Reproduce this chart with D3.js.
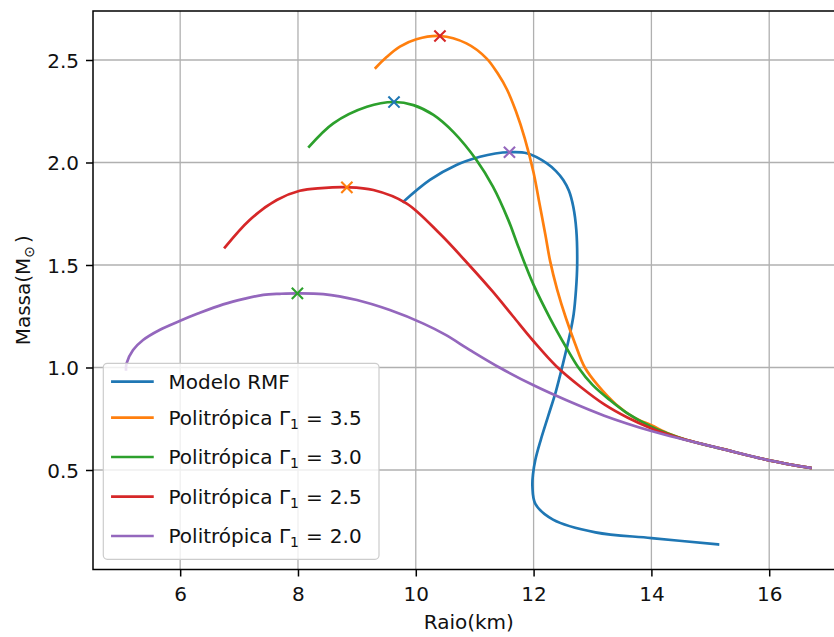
<!DOCTYPE html>
<html>
<head>
<meta charset="utf-8">
<script src="https://cdn.jsdelivr.net/npm/d3@7"></script>
<style>
  body { margin: 0; background: #fff; }
  svg { display: block; }
  text { font-family: "DejaVu Sans", sans-serif; }
</style>
</head>
<body>
<svg id="chart" width="834" height="637"></svg>
<script>
// ---- data ------------------------------------------------------------
const xTicks = [6, 8, 10, 12, 14, 16];
const yTicks = [0.5, 1.0, 1.5, 2.0, 2.5];
const xDomain = [4.52, 17.28];
const yDomain = [0.0146, 2.739];

const xLabel = "Raio(km)";
const seriesLabels = ["Modelo RMF", "Politrópica", "Politrópica", "Politrópica", "Politrópica"];
const gammaValues = [null, "3.5", "3.0", "2.5", "2.0"];

// mass–radius curves, [R (km), M (M_sun)]
const rmf = [
  [9.79, 1.809], [10.24, 1.915], [10.69, 1.988], [11.09, 2.028], [11.35, 2.044],
  [11.59, 2.050], [11.886, 2.045], [12.226, 1.996], [12.38, 1.958], [12.504, 1.915],
  [12.60, 1.862], [12.674, 1.784], [12.725, 1.671], [12.74, 1.500],
  [12.72, 1.380], [12.68, 1.260], [12.62, 1.167], [12.50, 1.020], [12.38, 0.885],
  [12.25, 0.765], [12.12, 0.645], [12.03, 0.550], [11.99, 0.480], [11.98, 0.420],
  [12.03, 0.335], [12.33, 0.258], [13.05, 0.196], [14.0, 0.168], [15.13, 0.137]
];
const poly35 = [
  [9.32, 2.462], [9.50, 2.513], [9.73, 2.565], [10.01, 2.601], [10.41, 2.617],
  [10.86, 2.581], [11.20, 2.508], [11.40, 2.430], [11.55, 2.355], [11.70, 2.250],
  [11.85, 2.118], [12.00, 1.950], [12.10, 1.800], [12.20, 1.648], [12.28, 1.520],
  [12.40, 1.380], [12.55, 1.240], [12.70, 1.120], [12.87, 1.000], [13.10, 0.910],
  [13.40, 0.820], [13.70, 0.757], [14.0, 0.718], [14.3, 0.677], [14.6, 0.646],
  [15.2, 0.603], [16.0, 0.547], [16.7, 0.510]
];
const poly30 = [
  [8.19, 2.077], [8.60, 2.191], [9.17, 2.272], [9.63, 2.295], [9.96, 2.280],
  [10.30, 2.232], [10.64, 2.148], [11.03, 2.012], [11.31, 1.882], [11.57, 1.720],
  [11.72, 1.605], [11.86, 1.500], [12.00, 1.403], [12.28, 1.240], [12.55, 1.100],
  [12.76, 1.000], [13.0, 0.915], [13.3, 0.840], [13.6, 0.775], [14.0, 0.711],
  [14.3, 0.675], [14.6, 0.646], [15.2, 0.603], [16.0, 0.547], [16.7, 0.510]
];
const poly25 = [
  [6.76, 1.586], [7.18, 1.720], [7.64, 1.817], [8.03, 1.862], [8.40, 1.875],
  [8.83, 1.879], [9.28, 1.866], [9.84, 1.801], [10.41, 1.652], [10.92, 1.495],
  [11.30, 1.372], [11.65, 1.250], [12.0, 1.128], [12.39, 1.005], [12.8, 0.905],
  [13.2, 0.820], [13.6, 0.755], [14.0, 0.703], [14.3, 0.672], [14.6, 0.646],
  [15.2, 0.603], [16.0, 0.547], [16.7, 0.510]
];
const poly20 = [
  [5.08, 0.991], [5.09, 1.020], [5.20, 1.085], [5.37, 1.134], [5.65, 1.183],
  [6.00, 1.228], [6.30, 1.263], [6.73, 1.308], [7.10, 1.336], [7.41, 1.354],
  [7.70, 1.3595], [7.98, 1.362], [8.43, 1.358], [9.00, 1.329], [9.56, 1.280],
  [10.13, 1.214], [10.50, 1.160], [10.92, 1.085], [11.42, 1.000], [12.0, 0.913],
  [12.56, 0.840], [13.2, 0.765], [14.0, 0.690], [14.6, 0.645], [15.2, 0.603],
  [16.0, 0.547], [16.7, 0.510]
];

// maximum-mass configurations (marked with "x")
const maxPoints = [[9.63, 2.295], [8.83, 1.879], [7.99, 1.362], [10.41, 2.617], [11.59, 2.050]];

const palette = ["#1f77b4", "#ff7f0e", "#2ca02c", "#d62728", "#9467bd"];
const series = [rmf, poly35, poly30, poly25, poly20];

// ---- layout ----------------------------------------------------------
const plotLeft = 93, plotTop = 11, plotW = 751.6, plotH = 558.5;
const FS = 20;

const svg = d3.select("#chart");
const x = d3.scaleLinear().domain(xDomain).range([plotLeft, plotLeft + plotW]);
const y = d3.scaleLinear().domain(yDomain).range([plotTop + plotH, plotTop]);

// grid
const grid = svg.append("g").attr("stroke", "#b0b0b0").attr("stroke-width", 1.3);
grid.selectAll("line.v").data(xTicks).join("line")
  .attr("x1", d => x(d)).attr("x2", d => x(d))
  .attr("y1", plotTop).attr("y2", plotTop + plotH);
grid.selectAll("line.h").data(yTicks).join("line")
  .attr("x1", plotLeft).attr("x2", plotLeft + plotW)
  .attr("y1", d => y(d)).attr("y2", d => y(d));

// curves
const line = d3.line().x(d => x(d[0])).y(d => y(d[1]))
  .curve(d3.curveCatmullRom.alpha(0.5));
svg.append("g").selectAll("path").data(series).join("path")
  .attr("d", d => line(d))
  .attr("fill", "none")
  .attr("stroke", (d, i) => palette[i])
  .attr("stroke-width", 2.7)
  .attr("stroke-linejoin", "round")
  .attr("stroke-linecap", "square");

// max markers
const m = 5.6;
svg.append("g").selectAll("path").data(maxPoints).join("path")
  .attr("transform", d => `translate(${x(d[0])},${y(d[1])})`)
  .attr("d", `M${-m},${-m}L${m},${m}M${-m},${m}L${m},${-m}`)
  .attr("stroke", (d, i) => palette[i])
  .attr("stroke-width", 2.1)
  .attr("fill", "none");

// axes
const xAxis = svg.append("g").attr("transform", `translate(0,${plotTop + plotH})`)
  .call(d3.axisBottom(x).tickValues(xTicks).tickSize(7).tickPadding(10.3).tickFormat(d3.format("d")));
const yAxis = svg.append("g").attr("transform", `translate(${plotLeft},0)`)
  .call(d3.axisLeft(y).tickValues(yTicks).tickSize(7).tickPadding(7).tickFormat(d3.format(".1f")));
[xAxis, yAxis].forEach(g => {
  g.select(".domain").remove();
  g.selectAll(".tick line").attr("stroke", "#000").attr("stroke-width", 1.5);
  g.selectAll(".tick text").attr("font-size", FS).attr("fill", "#111")
    .attr("font-family", "DejaVu Sans");
});
yAxis.selectAll(".tick text").attr("dy", "0.36em");

// spines
svg.append("rect")
  .attr("x", plotLeft).attr("y", plotTop).attr("width", plotW).attr("height", plotH)
  .attr("fill", "none").attr("stroke", "#000").attr("stroke-width", 1.5);

// axis labels
svg.append("text")
  .attr("x", plotLeft + plotW / 2).attr("y", 629)
  .attr("text-anchor", "middle").attr("font-size", FS).attr("fill", "#111")
  .text(xLabel);

const yl = svg.append("text")
  .attr("transform", `translate(30,${plotTop + plotH / 2}) rotate(-90)`)
  .attr("text-anchor", "middle").attr("font-size", FS).attr("fill", "#111");
yl.append("tspan").text("Massa(M");
yl.append("tspan").attr("font-size", FS * 0.7).attr("dy", 4).text("\u2299");
yl.append("tspan").attr("dy", -4).attr("dx", 3).text(")");

// legend
const legX = 103.3, legY = 363.3, legW = 275.7, legH = 196;
const rowY = [18.4, 54.4, 93.7, 133.4, 172.7];
const leg = svg.append("g");
leg.append("rect")
  .attr("x", legX).attr("y", legY).attr("width", legW).attr("height", legH)
  .attr("rx", 4).attr("fill", "#fff").attr("fill-opacity", 0.8)
  .attr("stroke", "#cccccc").attr("stroke-width", 1.2);
seriesLabels.forEach((lab, i) => {
  const cy = legY + rowY[i];
  leg.append("line")
    .attr("x1", legX + 9.1).attr("x2", legX + 49.1)
    .attr("y1", cy).attr("y2", cy)
    .attr("stroke", palette[i]).attr("stroke-width", 2.7)
    .attr("stroke-linecap", "square");
  const t = leg.append("text")
    .attr("x", legX + 65.2).attr("y", cy + 7.4)
    .attr("font-size", FS).attr("fill", "#111");
  t.append("tspan").text(lab);
  if (gammaValues[i] !== null) {
    t.append("tspan").attr("dx", 6.4).text("\u0393");
    t.append("tspan").attr("font-size", FS * 0.7).attr("dy", 4).text("1");
    t.append("tspan").attr("dy", -4).attr("dx", 7).text("=");
    t.append("tspan").attr("dx", 7).text(gammaValues[i]);
  }
});
</script>
</body>
</html>
